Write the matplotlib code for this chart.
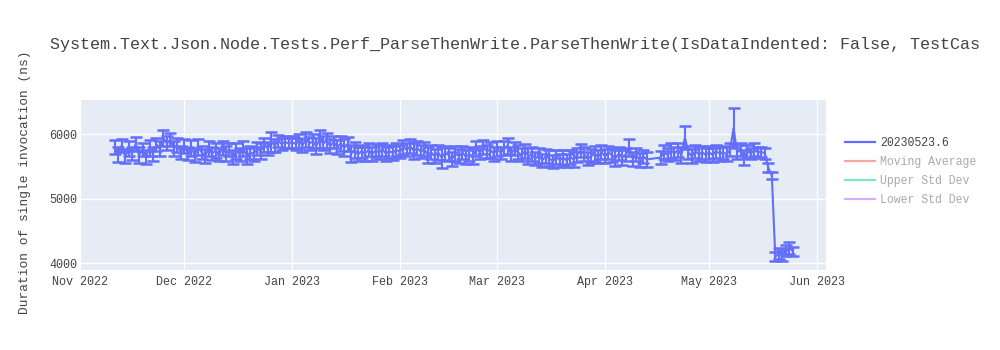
import matplotlib
matplotlib.use("Agg")
import matplotlib.pyplot as plt
import matplotlib.dates as mdates
from matplotlib.lines import Line2D
import pandas as pd

# ---------------- data ----------------
start_date = "2022-11-11"
end_date = "2023-05-25"
missing_days = ["2023-04-14", "2023-04-15", "2023-04-16"]

values = [
    # Nov 11-30
    5800, 5690, 5830, 5660, 5780, 5700, 5850, 5680, 5760, 5650,
    5790, 5700, 5840, 5780, 5940, 5860, 5920, 5780, 5830, 5720,
    # Dec 1-31
    5820, 5700, 5790, 5680, 5800, 5720, 5660, 5780, 5700, 5750,
    5680, 5790, 5700, 5760, 5650, 5740, 5690, 5780, 5660, 5720,
    5700, 5780, 5740, 5840, 5780, 5880, 5830, 5900, 5850, 5880, 5860,
    # Jan 1-31
    5880, 5850, 5900, 5830, 5920, 5860, 5890, 5820, 5930, 5860,
    5900, 5820, 5880, 5800, 5860, 5790, 5850, 5700, 5760, 5690,
    5740, 5700, 5760, 5690, 5750, 5720, 5770, 5700, 5740, 5710, 5760,
    # Feb 1-28
    5730, 5800, 5760, 5820, 5740, 5790, 5730, 5770, 5680, 5720,
    5660, 5720, 5640, 5710, 5680, 5620, 5700, 5660, 5720, 5650,
    5690, 5660, 5780, 5720, 5800, 5740, 5760, 5700,
    # Mar 1-31
    5780, 5710, 5790, 5820, 5700, 5780, 5720, 5680, 5740, 5660,
    5690, 5620, 5670, 5600, 5660, 5630, 5580, 5650, 5600, 5640,
    5590, 5650, 5610, 5680, 5750, 5700, 5620, 5660, 5700, 5650, 5720,
    # Apr 1-13
    5660, 5720, 5680, 5630, 5700, 5640, 5690, 5800, 5620, 5680, 5600, 5660, 5610,
    # Apr 17-30
    5640, 5720, 5680, 5750, 5700, 5760, 5680, 5950, 5720, 5660, 5740, 5690, 5720, 5680,
    # May 1-25
    5720, 5680, 5740, 5700, 5720, 5690, 5760, 6100, 5720, 5760,
    5640, 5740, 5700, 5760, 5720, 5730, 5700, 5480, 5360,
    4100, 4150, 4120, 4200, 4240, 4190,
]

errors = [
    # Nov
    110, 120, 100, 110, 120, 100, 110, 120, 100, 110,
    120, 110, 100, 120, 125, 110, 100, 120, 110, 100,
    # Dec
    110, 100, 120, 110, 120, 100, 110, 120, 100, 110,
    100, 110, 120, 100, 110, 120, 100, 110, 120, 100,
    110, 100, 120, 110, 100, 150, 100, 90, 100, 90, 80,
    # Jan
    90, 100, 110, 100, 110, 100, 110, 120, 135, 110,
    120, 110, 100, 110, 120, 130, 110, 130, 120, 110,
    100, 110, 100, 110, 100, 110, 100, 110, 100, 110, 100,
    # Feb
    100, 110, 100, 110, 120, 110, 100, 110, 120, 110,
    110, 120, 160, 110, 100, 110, 120, 110, 100, 110,
    110, 120, 110, 100, 110, 100, 120, 110,
    # Mar
    110, 100, 110, 120, 110, 100, 110, 100, 110, 120,
    110, 100, 110, 100, 110, 120, 100, 110, 100, 110,
    100, 110, 120, 110, 100, 110, 100, 110, 120, 100, 110,
    # Apr 1-13
    110, 100, 110, 120, 100, 110, 100, 130, 110, 100, 110, 100, 110,
    # Apr 17-30
    100, 110, 100, 110, 100, 110, 120, 180, 100, 110, 100, 110, 100, 110,
    # May
    100, 110, 100, 110, 100, 110, 100, 310, 110, 100,
    115, 100, 90, 100, 90, 80, 90, 70, 60,
    70, 80, 90, 80, 90, 70,
]

series_name = "20230523.6"
legend_labels = [series_name, "Moving Average", "Upper Std Dev", "Lower Std Dev"]
legend_colors = ["#636efa", "#EF553B", "#00cc96", "#ab63fa"]
title = ("System.Text.Json.Node.Tests.Perf_ParseThenWrite.ParseThenWrite"
         "(IsDataIndented: False, TestCas")
ylabel = "Duration of single invocation (ns)"
yticks = [4000, 5000, 6000]

all_days = pd.date_range(start_date, end_date, freq="D")
dates = all_days[~all_days.isin(pd.to_datetime(missing_days))]

# ---------------- plot ----------------
FONT = ["Liberation Mono", "DejaVu Sans Mono"]
plt.rcParams["font.family"] = FONT

fig = plt.figure(figsize=(10, 3.5), dpi=100)
ax = fig.add_axes([0.08, 1 - 270 / 350, 0.746, 170 / 350])
ax.set_facecolor("#e5ecf6")

ax.errorbar(dates, values, yerr=errors, color="#636efa", lw=1.5,
            elinewidth=1.5, capsize=4.5, capthick=1.8, zorder=3)

ax.set_xlim(pd.Timestamp("2022-11-01"), pd.Timestamp("2023-06-03 14:00"))
ax.set_ylim(3896, 6532)
ax.set_yticks(yticks)
ax.xaxis.set_major_locator(mdates.MonthLocator())
ax.xaxis.set_major_formatter(mdates.DateFormatter("%b %Y"))

ax.grid(True, color="white", lw=1)
ax.set_axisbelow(True)
for s in ax.spines.values():
    s.set_visible(False)
ax.tick_params(length=0, labelsize=8.5, colors="#444444")
ax.tick_params(axis="y", pad=2)
ax.tick_params(axis="x", pad=4)

fig.text(0.025, 1 - 182 / 350, ylabel, rotation=90, ha="center", va="center",
         fontsize=9.3, color="#444444")
fig.text(0.05, 1 - 45 / 350, title, ha="left", va="center",
         fontsize=12.1, color="#444444")

handles = []
for i, (lab, col) in enumerate(zip(legend_labels, legend_colors)):
    a = 1.0 if i == 0 else 0.5
    handles.append(Line2D([0], [0], color=col, lw=1.6, alpha=a))
leg = fig.legend(handles, legend_labels, loc="upper left",
                 bbox_to_anchor=(0.845, 1 - 137 / 350), frameon=False,
                 fontsize=8.3, handlelength=2.6, handletextpad=0.45,
                 labelspacing=0.6, borderaxespad=0, borderpad=0)
for i, t in enumerate(leg.get_texts()):
    t.set_color("#444444" if i == 0 else "#aaaaaa")

fig.savefig("out.png", dpi=100)
